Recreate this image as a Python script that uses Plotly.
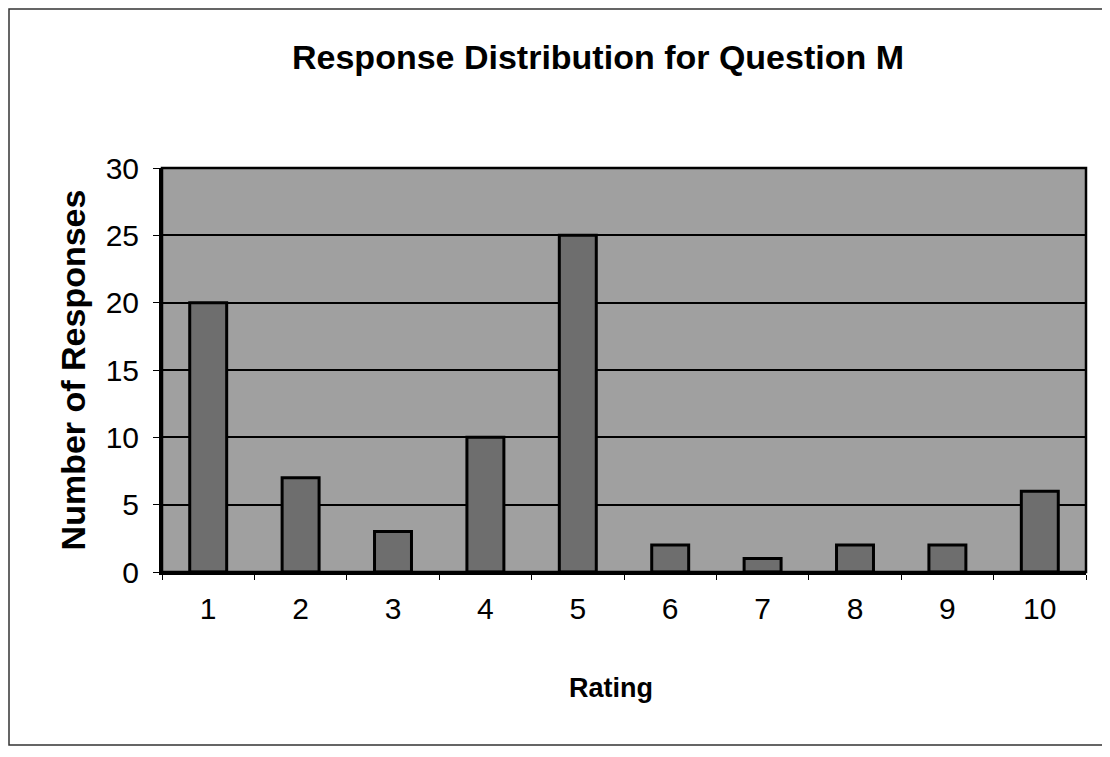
import plotly.graph_objects as go

ratings = ["1", "2", "3", "4", "5", "6", "7", "8", "9", "10"]
responses = [20, 7, 3, 10, 25, 2, 1, 2, 2, 6]
y_ticks = [0, 5, 10, 15, 20, 25, 30]

FONT = "Liberation Sans, Arial, sans-serif"

fig = go.Figure()
fig.add_trace(go.Bar(
    x=ratings, y=responses,
    width=0.4,
    marker=dict(color="#6e6e6e", line=dict(color="black", width=3)),
    showlegend=False,
))

# page body adds an 8px offset; figure sized so it fits the window
W, H = 1102, 749
L, R, T, B = 154, 24, 160, 185
pw, ph = W - L - R, H - T - B

fig.update_layout(
    width=W, height=H,
    margin=dict(l=L, r=R, t=T, b=B),
    paper_bgcolor="white",
    plot_bgcolor="#a0a0a0",
    title=dict(text="<b>Response Distribution for Question M</b>",
               x=590 / W, xref="container", xanchor="center",
               y=1 - 49 / H, yref="container", yanchor="middle",
               font=dict(family=FONT, size=34, color="black")),
    xaxis=dict(
        type="category",
        tickfont=dict(family=FONT, size=30, color="black"),
        tickson="boundaries", ticks="outside", ticklen=5, tickcolor="black",
        ticklabelstandoff=8,
        showline=True, linecolor="black", linewidth=3,
        showgrid=False,
    ),
    yaxis=dict(
        range=[0, 30], tickvals=y_ticks,
        title=dict(text="<b>Number of Responses</b>", font=dict(family=FONT, size=34, color="black"), standoff=10),
        tickfont=dict(family=FONT, size=30, color="black"),
        ticks="outside", ticklen=6, tickcolor="black",
        ticklabelstandoff=8,
        showgrid=True, gridcolor="black", gridwidth=2,
        showline=True, linecolor="black", linewidth=3,
        zeroline=False,
    ),
)

# x-axis title placed as in the original (slightly left of plot centre)
fig.add_annotation(text="<b>Rating</b>", showarrow=False,
                   xref="paper", yref="paper",
                   x=(603 - L) / pw, y=(H - B - 680) / ph,
                   xanchor="center", yanchor="middle",
                   font=dict(family=FONT, size=27, color="black"))

# plot area frame (top/right)
fig.add_shape(type="rect", xref="paper", yref="paper", x0=0, y0=0, x1=1, y1=1,
              line=dict(color="black", width=2.5), layer="above")
# outer chart border
fig.add_shape(type="rect", xref="paper", yref="paper",
              x0=(1 - L) / pw, x1=(1097 - L) / pw,
              y0=(H - B - 737) / ph, y1=(H - B - 1) / ph,
              line=dict(color="#333333", width=1.5))

fig.write_html("out.html")
